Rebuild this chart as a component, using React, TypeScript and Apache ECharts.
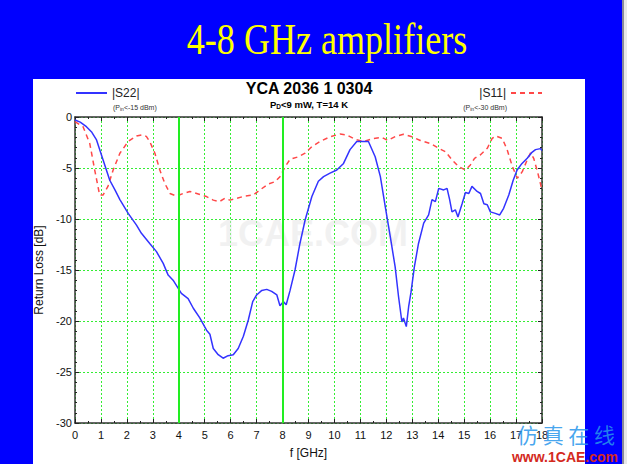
import React, { useEffect, useRef } from "react";
import * as echarts from "echarts";

// |S22| (Pin < -15 dBm), frequency in GHz, return loss in dB
const s22Freq = [0, 0.2, 0.44, 0.65, 0.83, 1.08, 1.34, 1.55, 1.73, 2.05, 2.37, 2.56, 2.88, 3.14, 3.4, 3.59, 3.78, 3.98, 4.1, 4.36, 4.56, 4.81, 5.07, 5.2, 5.33, 5.52, 5.71, 5.9, 6.1, 6.29, 6.49, 6.68, 6.85, 7.0, 7.2, 7.39, 7.58, 7.78, 7.9, 8.03, 8.14, 8.29, 8.48, 8.67, 8.87, 9.13, 9.38, 9.58, 9.83, 10.09, 10.35, 10.6, 10.86, 11.06, 11.31, 11.57, 11.77, 11.96, 12.15, 12.34, 12.47, 12.6, 12.66, 12.77, 12.86, 12.95, 13.08, 13.24, 13.44, 13.63, 13.76, 13.89, 14.02, 14.21, 14.34, 14.44, 14.53, 14.66, 14.76, 14.92, 15.05, 15.18, 15.3, 15.5, 15.63, 15.76, 15.89, 16.01, 16.2, 16.37, 16.52, 16.72, 16.89, 17.04, 17.23, 17.43, 17.6, 17.75, 17.94, 18.0];
const s22Loss = [-0.3, -0.5, -0.95, -1.5, -2.25, -4.2, -6.2, -7.2, -8.1, -9.45, -10.6, -11.4, -12.4, -13.2, -14.35, -15.5, -16.0, -16.8, -17.3, -17.8, -18.75, -19.7, -20.9, -21.3, -22.7, -23.3, -23.65, -23.4, -23.3, -22.7, -21.5, -19.9, -18.1, -17.45, -17.0, -16.9, -17.1, -17.45, -18.5, -18.1, -18.4, -17.0, -15.0, -12.4, -10.1, -7.8, -6.3, -5.85, -5.5, -5.2, -4.55, -3.2, -2.4, -2.4, -2.4, -3.9, -5.85, -8.8, -11.7, -14.7, -17.6, -20.1, -19.7, -20.55, -18.6, -17.2, -14.7, -12.4, -10.4, -9.6, -8.1, -8.3, -7.0, -7.15, -7.0, -8.1, -9.3, -9.1, -9.8, -8.5, -7.4, -7.5, -6.8, -7.3, -7.5, -8.5, -8.6, -9.3, -9.45, -9.6, -8.95, -7.65, -6.2, -5.2, -4.55, -4.05, -3.5, -3.2, -3.1, -3.3];

// |S11| (Pin < -30 dBm)
const s11Freq = [0, 0.31, 0.57, 0.76, 0.95, 1.08, 1.27, 1.47, 1.73, 2.05, 2.37, 2.56, 2.75, 2.88, 3.08, 3.27, 3.46, 3.66, 3.91, 4.17, 4.43, 4.75, 5.07, 5.33, 5.56, 5.78, 5.97, 6.23, 6.55, 6.87, 7.13, 7.45, 7.71, 7.9, 8.1, 8.29, 8.61, 8.87, 9.13, 9.45, 9.83, 10.22, 10.48, 10.8, 11.12, 11.51, 11.83, 12.05, 12.34, 12.66, 12.99, 13.31, 13.7, 14.02, 14.28, 14.53, 14.79, 15.05, 15.24, 15.4, 15.63, 15.89, 16.08, 16.21, 16.47, 16.66, 16.86, 17.05, 17.24, 17.43, 17.56, 17.68, 17.84, 18.0];
const s11Loss = [-0.45, -0.95, -2.6, -5.2, -7.65, -7.65, -6.8, -5.2, -3.55, -2.4, -1.86, -1.76, -1.9, -2.4, -3.55, -5.2, -6.5, -7.5, -7.75, -7.5, -7.3, -7.55, -7.8, -8.15, -8.3, -7.97, -8.15, -7.97, -7.75, -7.65, -7.15, -6.57, -6.34, -5.85, -4.87, -4.15, -3.9, -3.55, -2.9, -2.4, -1.93, -1.67, -1.76, -2.19, -2.4, -2.1, -2.0, -2.3, -1.93, -1.7, -1.93, -2.3, -2.6, -3.07, -3.4, -4.2, -4.87, -5.2, -4.7, -4.05, -3.7, -3.07, -2.1, -1.86, -2.1, -3.24, -4.87, -6.0, -5.36, -4.2, -3.5, -4.05, -5.5, -7.15];

const xRange = [0, 18];
const yRange = [-30, 0];
const bandEdges = [4, 8];

const SANS = '"Liberation Sans", Arial, sans-serif';

export default function App() {
  const ref = useRef<HTMLDivElement>(null);

  useEffect(() => {
    const chart = echarts.init(ref.current!, null, { renderer: "svg" });
    const s22 = s22Freq.map((f, i) => [f, s22Loss[i]]);
    const s11 = s11Freq.map((f, i) => [f, s11Loss[i]]);

    const frameLine = { show: true, onZero: false, lineStyle: { color: "#333", width: 1.5 } };
    const tick = { show: true, inside: true, length: 4, lineStyle: { color: "#222", width: 1 } };

    chart.setOption({
      animation: false,
      title: {
        text: "YCA 2036 1 0304",
        left: 309,
        top: 80,
        padding: 0,
        textAlign: "center",
        textStyle: { fontFamily: SANS, fontSize: 16, fontWeight: "bold", color: "#000" },
      },
      legend: [
        {
          data: ["|S22|"],
          left: 75,
          top: 87,
          padding: 0,
          itemWidth: 31,
          itemHeight: 12,
          itemGap: 5,
          itemStyle: { opacity: 0 },
          textStyle: { fontFamily: SANS, fontSize: 12, color: "#222" },
        },
        {
          data: ["|S11|"],
          right: 84,
          top: 87,
          padding: 0,
          align: "right",
          itemWidth: 31,
          itemHeight: 12,
          itemStyle: { opacity: 0 },
          textStyle: { fontFamily: SANS, fontSize: 12, color: "#222" },
        },
      ],
      grid: { left: 75, top: 117, width: 467, height: 306, show: false },
      xAxis: [
        {
          type: "value",
          min: xRange[0],
          max: xRange[1],
          interval: 1,
          position: "bottom",
          name: "f [GHz]",
          nameLocation: "middle",
          nameGap: 24,
          nameTextStyle: { fontFamily: SANS, fontSize: 12, color: "#111" },
          axisLine: frameLine,
          axisTick: tick,
          minorTick: { show: true, splitNumber: 2, length: 2, lineStyle: { color: "#222" } },
          axisLabel: { fontFamily: SANS, fontSize: 11, color: "#111", margin: 6 },
          splitLine: { show: true, lineStyle: { color: "#33ee33", width: 1, type: [2, 2] } },
        },
        {
          type: "value",
          min: xRange[0],
          max: xRange[1],
          interval: 1,
          position: "top",
          axisLine: frameLine,
          axisTick: tick,
          minorTick: { show: true, splitNumber: 2, length: 2, lineStyle: { color: "#222" } },
          axisLabel: { show: false },
          splitLine: { show: false },
        },
      ],
      yAxis: [
        {
          type: "value",
          min: yRange[0],
          max: yRange[1],
          interval: 5,
          position: "left",
          name: "Return Loss [dB]",
          nameLocation: "middle",
          nameGap: 26,
          nameRotate: 90,
          nameTextStyle: { fontFamily: SANS, fontSize: 12, color: "#111" },
          axisLine: frameLine,
          axisTick: tick,
          minorTick: { show: true, splitNumber: 5, length: 2, lineStyle: { color: "#222" } },
          axisLabel: { fontFamily: SANS, fontSize: 11, color: "#111", margin: 3 },
          splitLine: { show: true, lineStyle: { color: "#33ee33", width: 1, type: [2, 2] } },
        },
        {
          type: "value",
          min: yRange[0],
          max: yRange[1],
          interval: 5,
          position: "right",
          axisLine: frameLine,
          axisTick: tick,
          minorTick: { show: true, splitNumber: 5, length: 2, lineStyle: { color: "#222" } },
          axisLabel: { show: false },
          splitLine: { show: false },
        },
      ],
      series: [
        {
          name: "|S11|",
          type: "line",
          data: s11,
          symbol: "none",
          z: 2,
          lineStyle: { color: "#ff4848", width: 1.5, type: [5, 4] },
          itemStyle: { color: "#ff4848" },
          markLine: {
            silent: true,
            symbol: "none",
            label: { show: false },
            lineStyle: { color: "#22ee22", width: 2, type: "solid" },
            data: bandEdges.map((v) => ({ xAxis: v })),
          },
        },
        {
          name: "|S22|",
          type: "line",
          data: s22,
          symbol: "none",
          z: 3,
          lineStyle: { color: "#3333ff", width: 1.5 },
          itemStyle: { color: "#3333ff" },
        },
      ],
      graphic: [
        {
          type: "text",
          x: 327,
          y: 39,
          scaleX: 0.82,
          style: {
            text: "4-8 GHz amplifiers",
            x: 0,
            y: 0,
            fill: "#ffff00",
            fontFamily: '"Liberation Serif", "Times New Roman", serif',
            fontSize: 44,
            align: "center",
            verticalAlign: "middle",
          },
        },
        {
          type: "text",
          x: 309,
          y: 104,
          style: {
            text: "{n|P}{s|D}{n|<9 mW, T=14 K}",
            align: "center",
            verticalAlign: "middle",
            rich: {
              n: { fontFamily: SANS, fontSize: 9.5, fontWeight: "bold", fill: "#000" },
              s: { fontFamily: SANS, fontSize: 6.5, fontWeight: "bold", fill: "#000", padding: [5, 0, 0, 0] },
            },
          },
        },
        {
          type: "text",
          x: 113,
          y: 107,
          style: {
            text: "{n|(P}{s|in}{n|<-15 dBm)}",
            align: "left",
            verticalAlign: "middle",
            rich: {
              n: { fontFamily: SANS, fontSize: 7, fill: "#333" },
              s: { fontFamily: SANS, fontSize: 5, fill: "#333", padding: [4, 0, 0, 0] },
            },
          },
        },
        {
          type: "text",
          x: 507,
          y: 107,
          style: {
            text: "{n|(P}{s|in}{n|<-30 dBm)}",
            align: "right",
            verticalAlign: "middle",
            rich: {
              n: { fontFamily: SANS, fontSize: 7, fill: "#333" },
              s: { fontFamily: SANS, fontSize: 5, fill: "#333", padding: [4, 0, 0, 0] },
            },
          },
        },
        {
          type: "text",
          x: 313,
          y: 233,
          z: 1,
          silent: true,
          style: {
            text: "1CAE.COM",
            align: "center",
            verticalAlign: "middle",
            fontFamily: SANS,
            fontWeight: "bold",
            fontSize: 36,
            fill: "rgba(228,228,228,0.5)",
          },
        },
        {
          type: "text",
          x: 566,
          y: 434,
          z: 100,
          silent: true,
          style: {
            text: "仿 真 在 线",
            align: "center",
            verticalAlign: "middle",
            fontFamily: '"Noto Sans CJK SC", sans-serif',
            fontSize: 21,
            lineHeight: 21,
            fill: "rgba(40,150,235,0.85)",
          },
        },
        {
          type: "text",
          x: 565,
          y: 457,
          z: 100,
          silent: true,
          style: {
            text: "www.1CAE.com",
            align: "center",
            verticalAlign: "middle",
            fontFamily: SANS,
            fontWeight: "bold",
            fontSize: 14,
            lineHeight: 14,
            fill: "#d42a1e",
          },
        },
      ],
    });

    return () => chart.dispose();
  }, []);

  return (
    <div
      style={{
        position: "fixed",
        left: 0,
        top: 0,
        width: 627,
        height: 464,
        background: "#0000ff",
        overflow: "hidden",
      }}
    >
      <div style={{ position: "absolute", left: 33, top: 79, width: 552, height: 385, background: "#ffffff" }} />
      <div style={{ position: "absolute", left: 622, top: 0, width: 2, height: 464, background: "#8a8a9a" }} />
      <div style={{ position: "absolute", left: 624, top: 0, width: 3, height: 464, background: "#e8e8e8" }} />
      <div ref={ref} style={{ position: "absolute", left: 0, top: 0, width: 627, height: 464 }} />
    </div>
  );
}
